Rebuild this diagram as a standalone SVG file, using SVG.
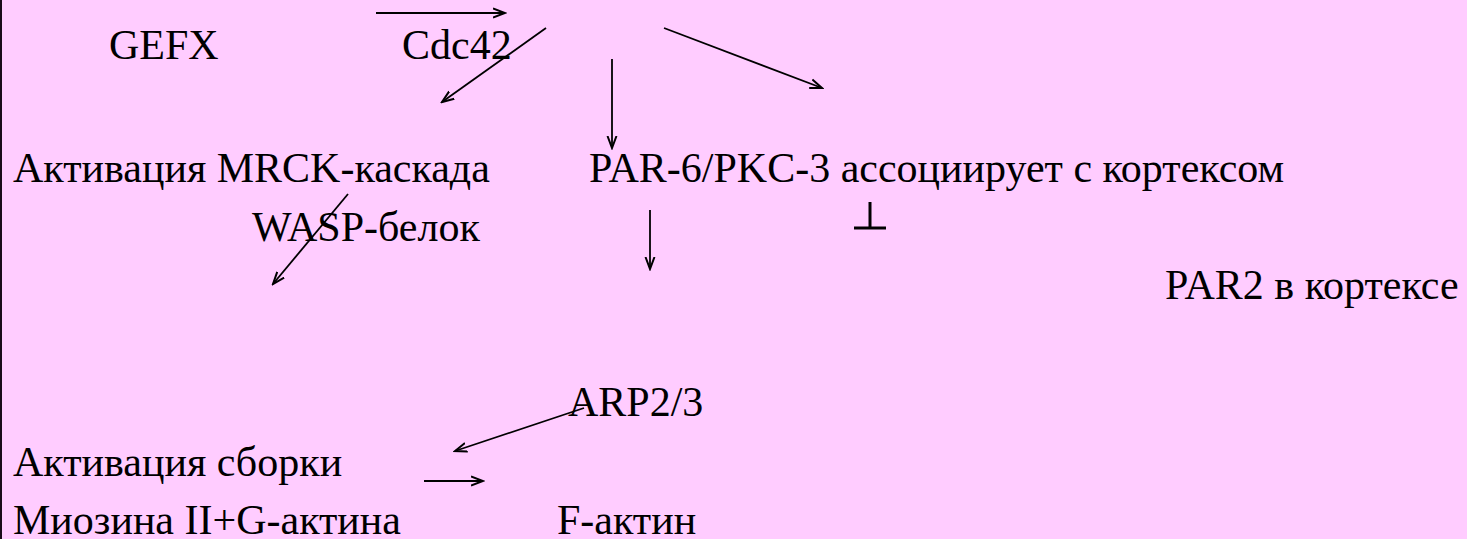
<svg xmlns="http://www.w3.org/2000/svg" width="1467" height="539" viewBox="0 0 1467 539">
<style>
text{font-family:"Liberation Serif","Times New Roman",serif;font-size:42px;fill:#000}
.c{stroke:#000;stroke-width:1.8;fill:none}
</style>
<defs>
<marker id="ah" markerWidth="14" markerHeight="12" refX="12" refY="6" orient="auto" markerUnits="userSpaceOnUse">
<path d="M0,1.5 L12,6 L0,10.5" fill="none" stroke="#000" stroke-width="2"/>
</marker>
</defs>
<rect x="0" y="0" width="1467" height="539" fill="#FFCCFF"/>
<rect x="0" y="0" width="2" height="539" fill="#1a0a1a"/>
<g id="n-gefx"><text x="109" y="59">GEFX</text></g>
<g id="n-cdc42"><text x="402" y="59">Cdc42</text></g>
<g id="n-mrck"><text x="13" y="182">Активация MRCK-каскада</text></g>
<g id="n-par6"><text x="589" y="182">PAR-6/PKC-3 ассоциирует с кортексом</text></g>
<g id="n-wasp"><text x="252" y="241">WASP-белок</text></g>
<g id="n-par2"><text x="1165" y="299">PAR2 в кортексе</text></g>
<g id="n-arp"><text x="568" y="416">ARP2/3</text></g>
<g id="n-sborki"><text x="13" y="476">Активация сборки</text></g>
<g id="n-miozin"><text x="13" y="534">Миозина II+G-актина</text></g>
<g id="n-factin"><text x="557" y="534">F-актин</text></g>
<g id="connectors">
<line class="c" x1="376" y1="13" x2="505" y2="13" marker-end="url(#ah)"/>
<line class="c" x1="546" y1="28" x2="442" y2="102" marker-end="url(#ah)"/>
<line class="c" x1="612" y1="59" x2="612" y2="148" marker-end="url(#ah)"/>
<line class="c" x1="664" y1="28" x2="822" y2="88" marker-end="url(#ah)"/>
<line class="c" x1="348" y1="194" x2="273" y2="284" marker-end="url(#ah)"/>
<line class="c" x1="650" y1="210" x2="650" y2="269" marker-end="url(#ah)"/>
<line class="c" x1="584" y1="408" x2="455" y2="451" marker-end="url(#ah)"/>
<line class="c" x1="424" y1="481" x2="483" y2="481" marker-end="url(#ah)"/>
<g stroke="#000" stroke-width="3">
<line x1="870" y1="202" x2="870" y2="228"/>
<line x1="854" y1="228" x2="886" y2="228"/>
</g>
</g>
</svg>
